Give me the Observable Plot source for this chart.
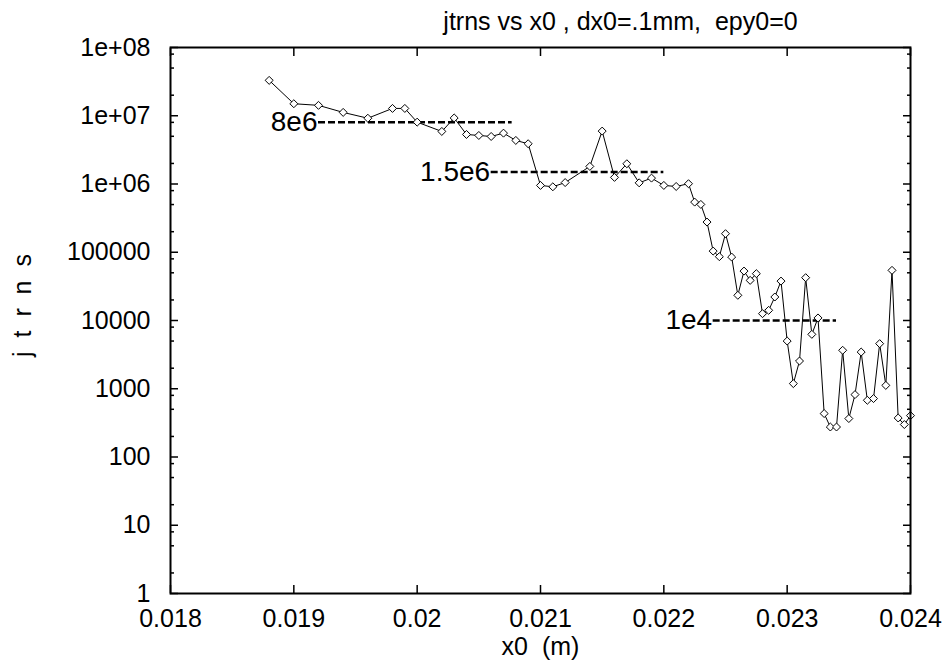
<!DOCTYPE html>
<html><head><meta charset="utf-8">
<script src="https://cdn.jsdelivr.net/npm/d3@7"></script>
<script src="https://cdn.jsdelivr.net/npm/@observablehq/plot@0.6"></script>
<style>body{margin:0;background:#fff} svg{display:block}</style>
</head><body><div id="chart"></div>
<script>
const x0 = [0.0188, 0.019, 0.0192, 0.0194, 0.0196, 0.0198, 0.0199, 0.020,
  0.0202, 0.0203, 0.0204, 0.0205, 0.0206, 0.0207, 0.0208, 0.0209, 0.021, 0.0211, 0.0212,
  0.0214, 0.0215, 0.0216, 0.0217, 0.0218, 0.0219, 0.022, 0.0221, 0.0222,
  0.02225, 0.0223, 0.02235, 0.0224, 0.02245, 0.0225, 0.02255, 0.0226, 0.02265, 0.0227,
  0.02275, 0.0228, 0.02285, 0.0229, 0.02295, 0.023, 0.02305, 0.0231, 0.02315, 0.0232,
  0.02325, 0.0233, 0.02335, 0.0234, 0.02345, 0.0235, 0.02355, 0.0236, 0.02365, 0.0237,
  0.02375, 0.0238, 0.02385, 0.0239, 0.02395, 0.024];
const jtrns = [3.3e7, 1.5e7, 1.42e7, 1.12e7, 9.2e6, 1.28e7, 1.28e7, 8.06e6,
  5.89e6, 9.28e6, 5.32e6, 5.14e6, 4.97e6, 5.56e6, 4.35e6, 3.89e6, 9.53e5, 9.1e5, 1.05e6,
  1.81e6, 5.96e6, 1.25e6, 1.98e6, 1.04e6, 1.22e6, 9.53e5, 9.2e5, 1.01e6,
  5.43e5, 5.02e5, 2.77e5, 1.04e5, 8.61e4, 1.87e5, 8.5e4, 2.34e4, 5.3e4, 3.87e4,
  4.86e4, 1.26e4, 1.41e4, 2.21e4, 3.78e4, 5.0e3, 1.19e3, 2.55e3, 4.24e4, 6.27e3,
  1.09e4, 433, 275, 275, 3.66e3, 366, 821, 3.45e3, 678, 718,
  4.58e3, 1.12e3, 5.43e4, 373, 299, 404];

const refLabels = ["8e6", "1.5e6", "1e4"];
const refValues = [8e6, 1.5e6, 1e4];
const refStart = [0.0192, 0.0206, 0.0224];
const refEnd = [0.02077, 0.022, 0.0234];

const xTicks = [0.018, 0.019, 0.020, 0.021, 0.022, 0.023, 0.024];
const xTickLabels = ["0.018", "0.019", "0.02", "0.021", "0.022", "0.023", "0.024"];
const yTicks = [1, 10, 100, 1000, 1e4, 1e5, 1e6, 1e7, 1e8];
const yTickLabels = ["1", "10", "100", "1000", "10000", "100000", "1e+06", "1e+07", "1e+08"];
const yMinorTicks = [2, 5, 8, 20, 50, 80, 200, 500, 800, 2000, 5000, 8000,
  2e4, 5e4, 8e4, 2e5, 5e5, 8e5, 2e6, 5e6, 8e6, 2e7, 5e7, 8e7];

const title = "jtrns vs x0 , dx0=.1mm,\u00a0 epy0=0";
const xLabel = "x0\u00a0 (m)";
const yLabel = "j\u00a0 t\u00a0 r\u00a0 n\u00a0 s";

const points = x0.map((x, i) => ({x, y: jtrns[i]}));
const refs = refLabels.map((label, i) => ({label, value: refValues[i], x1: refStart[i], x2: refEnd[i]}));

const font = "'Liberation Sans', Arial, Helvetica, sans-serif";
const fs = 25;
const blank = () => "";

const chart = Plot.plot({
  width: 949, height: 669,
  marginLeft: 170, marginRight: 39, marginTop: 47, marginBottom: 76,
  style: {fontFamily: font, fontSize: fs + "px", background: "#fff", color: "#000"},
  x: {domain: [0.018, 0.024], label: null},
  y: {type: "log", domain: [1, 1e8], label: null},
  marks: [
    Plot.axisX(xTicks, {anchor: "bottom", tickSize: 0, tickPadding: 16, label: null,
      tickFormat: d => xTickLabels[xTicks.indexOf(d)], fontSize: fs}),
    Plot.axisX(xTicks, {anchor: "bottom", tickSize: -8, strokeWidth: 1.5, label: null, tickFormat: blank}),
    Plot.axisX(xTicks, {anchor: "top", tickSize: -8, strokeWidth: 1.5, label: null, tickFormat: blank}),
    Plot.axisY(yTicks, {anchor: "left", tickSize: 0, tickPadding: 20, label: null,
      tickFormat: d => yTickLabels[yTicks.indexOf(d)], fontSize: fs}),
    Plot.axisY(yTicks, {anchor: "left", tickSize: -8, strokeWidth: 1.5, label: null, tickFormat: blank}),
    Plot.axisY(yTicks, {anchor: "right", tickSize: -8, strokeWidth: 1.5, label: null, tickFormat: blank}),
    Plot.axisY(yMinorTicks, {anchor: "left", tickSize: -4, strokeWidth: 1.5, label: null, tickFormat: blank}),
    Plot.axisY(yMinorTicks, {anchor: "right", tickSize: -4, strokeWidth: 1.5, label: null, tickFormat: blank}),
    Plot.ruleY(refs, {y: "value", x1: "x1", x2: "x2", stroke: "black", strokeWidth: 2.5, strokeDasharray: "7,3"}),
    Plot.text(refs, {x: "x1", y: "value", text: "label", textAnchor: "end", dx: -1, fontSize: 28, fill: "black"}),
    Plot.line(points, {x: "x", y: "y", stroke: "black", strokeWidth: 1}),
    Plot.dot(points, {x: "x", y: "y", symbol: "diamond2", r: 3.6, stroke: "black", fill: "white", strokeWidth: 1}),
    Plot.frame({stroke: "black", strokeWidth: 2}),
    Plot.text([title], {text: d => d, frameAnchor: "top", dx: 80, dy: -35, fontSize: fs, fill: "black"}),
    Plot.text([xLabel], {text: d => d, frameAnchor: "bottom", dy: 61, fontSize: fs, fill: "black"}),
    Plot.text([yLabel], {text: d => d, frameAnchor: "left", textAnchor: "middle", rotate: -90, dx: -148, dy: -15, fontSize: fs, fill: "black"})
  ]
});
document.getElementById("chart").appendChild(chart);
</script>
</body></html>
